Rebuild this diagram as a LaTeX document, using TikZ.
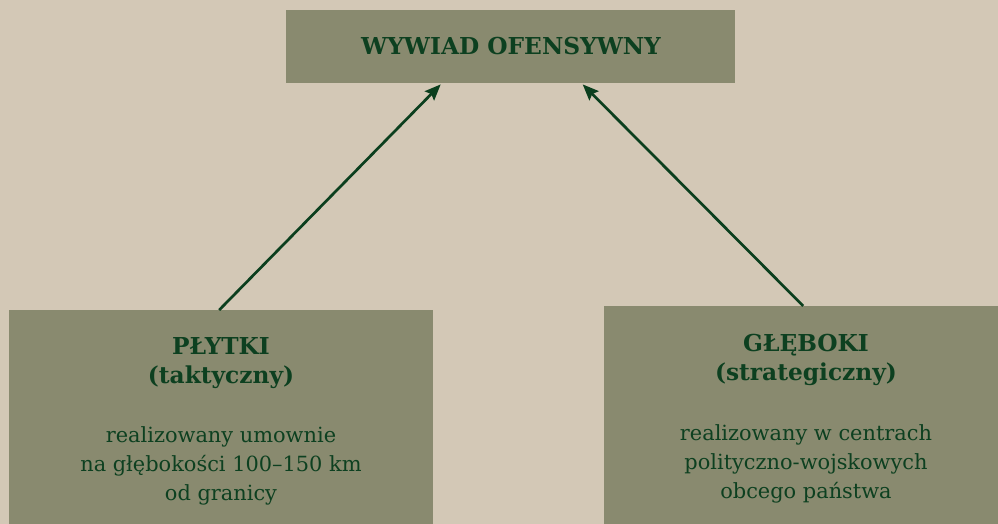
\documentclass[tikz,border=0pt]{standalone}
\usepackage{fontspec}
\setmainfont{DejaVu Serif}
\usetikzlibrary{arrows.meta,calc}
\definecolor{bgc}{HTML}{D3C8B6}
\definecolor{boxc}{HTML}{898A6F}
\definecolor{txtc}{HTML}{0D4020}
\definecolor{arrc}{HTML}{0B3F1E}
\tikzset{
  panel/.style={draw=none,fill=boxc,inner sep=0pt,anchor=north west},
  head/.style={text=txtc,font=\fontsize{23.3}{28.5}\selectfont\bfseries,align=center,anchor=base,inner sep=0pt},
  body/.style={text=txtc,font=\fontsize{20.9}{29}\selectfont,align=center,anchor=base,inner sep=0pt},
  link/.style={draw=arrc,line width=2.7pt,-{Stealth[length=16pt,width=13pt,inset=2.5pt]}}
}
\begin{document}
\begin{tikzpicture}[x=1pt,y=-1pt]
\fill[bgc] (0,0) rectangle (998,524);
\useasboundingbox (0,0) rectangle (998,524);
\node[panel,minimum width=449pt,minimum height=73pt] (top) at (286,10) {};
\node[panel,minimum width=424pt,minimum height=214pt] (pl) at (9,310) {};
\node[panel,minimum width=394pt,minimum height=218pt] (gl) at (604,306) {};
\node[head] (t0) at (511,55) {WYWIAD OFENSYWNY};
\node[head] (t1) at (221,383) {PŁYTKI\\(taktyczny)};
\node[body] (t2) at (221,500) {realizowany umownie\\na głębokości 100–150 km\\od granicy};
\node[head] (t3) at (806,380) {GŁĘBOKI\\(strategiczny)};
\node[body] (t4) at (806,498) {realizowany w centrach\\polityczno-wojskowych\\obcego państwa};
\coordinate (e1) at ($(top.south)+(-70,1)$);
\coordinate (e2) at ($(top.south)+(72,1)$);
\coordinate (s1) at ($(pl.north)+(-2,0)$);
\coordinate (s2) at ($(gl.north)+(2,0)$);
\draw[link] (s1) -- (e1);
\draw[link] (s2) -- (e2);
\end{tikzpicture}
\end{document}
